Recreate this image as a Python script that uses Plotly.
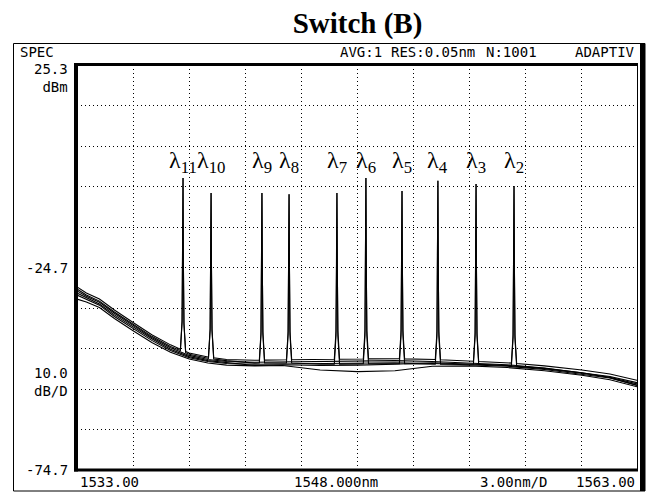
import numpy as np
import plotly.graph_objects as go

# ---------------- data ----------------
FLOOR_WL = [1533.0, 1533.5, 1534.2, 1535.0, 1536.0, 1537.0, 1538.0, 1539.0, 1540.0, 1541.0,
            1542.5, 1544.0, 1546.0, 1548.0, 1550.0, 1552.0, 1554.0, 1556.0, 1558.0, 1560.0,
            1561.5, 1563.0]
FLOOR_1 = [-29.5, -31.0, -32.5, -35.2, -38.3, -41.3, -43.8, -45.8, -46.8, -47.4, -47.6, -47.5,
           -47.4, -47.3, -47.2, -47.4, -47.8, -48.2, -49.0, -50.0, -51.0, -52.6]
FLOOR_2 = [-30.5, -31.8, -33.3, -36.0, -39.0, -42.0, -44.5, -46.4, -47.4, -47.9, -48.1, -48.0,
           -47.9, -47.8, -47.7, -47.9, -48.3, -48.7, -49.5, -50.6, -51.6, -53.2]
FLOOR_3 = [-31.5, -32.5, -34.0, -36.8, -39.8, -42.7, -45.2, -47.0, -47.9, -48.4, -48.6, -48.5,
           -48.4, -48.3, -48.2, -48.4, -48.7, -49.1, -49.9, -51.0, -52.0, -53.8]
FLOOR_4 = [-32.5, -33.2, -34.6, -37.3, -40.3, -43.2, -45.6, -47.3, -48.3, -48.8, -49.0, -48.9,
           -50.0, -50.4, -50.2, -49.1, -49.0, -49.4, -50.2, -51.3, -52.4, -54.2]
FLOOR_5 = [-30.0, -31.5, -33.0, -35.7, -38.7, -41.7, -44.2, -46.1, -47.1, -47.7, -48.3, -48.2,
           -48.6, -48.5, -48.4, -48.6, -48.5, -48.9, -49.7, -50.8, -51.8, -53.5]
FLOOR_6 = [-31.0, -32.2, -33.7, -36.4, -39.4, -42.3, -44.9, -46.7, -47.7, -48.2, -48.9, -48.7,
           -48.9, -48.8, -48.6, -48.2, -48.5, -48.9, -49.6, -50.7, -51.9, -53.9]

PEAK_NAMES = ["11", "10", "9", "8", "7", "6", "5", "4", "3", "2"]
PEAK_WL = [1538.67, 1540.17, 1542.89, 1544.34, 1546.90, 1548.45, 1550.38, 1552.30, 1554.34, 1556.37]
PEAK_DBM = [-2.6, -6.3, -6.3, -6.6, -6.3, -2.6, -5.8, -3.3, -4.1, -4.6]

X_TICKS = ["1533.00", "1548.000nm", "3.00nm/D", "1563.00"]
Y_TOP, Y_MID, Y_BOT = "25.3", "-24.7", "-74.7"

# ---------------- geometry helpers ----------------
W, H = 658, 493
L, R, T, B = 77, 638, 65, 470


def px(x):
    return (x - L) / (R - L)


def py(y):
    return (B - y) / (B - T)


# peak shape (nm offsets and shoulder levels)
OFFS = [-0.14, -0.05, -0.02, 0.0, 0.02, 0.05, 0.14]


def build(floor, with_peaks):
    xs = list(FLOOR_WL)
    ys = list(floor)
    if with_peaks:
        for wl, pk in zip(PEAK_WL, PEAK_DBM):
            base_l = float(np.interp(wl + OFFS[0], FLOOR_WL, floor))
            base_r = float(np.interp(wl + OFFS[-1], FLOOR_WL, floor))
            lv = [base_l, base_l + 7, -24.0, pk, -24.0, base_r + 7, base_r]
            for o, v in zip(OFFS, lv):
                xs.append(wl + o)
                ys.append(v)
    order = np.argsort(xs, kind="stable")
    return [xs[i] for i in order], [ys[i] for i in order]


fig = go.Figure()
for floor, pk in [(FLOOR_4, False), (FLOOR_3, False), (FLOOR_6, False), (FLOOR_5, True),
                  (FLOOR_2, False), (FLOOR_1, True)]:
    x, y = build(floor, pk)
    fig.add_trace(go.Scatter(x=x, y=y, mode="lines", line=dict(color="black", width=1.1),
                             hoverinfo="skip", showlegend=False))

fig.update_layout(
    width=W, height=H,
    margin=dict(l=L, r=W - R, t=T, b=H - B),
    paper_bgcolor="white", plot_bgcolor="white",
    showlegend=False,
    title=dict(text="<b>Switch (B)</b>", x=0.5, xref="paper", xanchor="center", y=1 - 23 / H,
               yanchor="middle", font=dict(family="Liberation Serif", size=29, color="black")),
    xaxis=dict(range=[1533, 1563], tick0=1533, dtick=3, showgrid=True, gridcolor="black",
               griddash="1px,3px", gridwidth=1, showticklabels=False, zeroline=False,
               showline=False, ticks=""),
    yaxis=dict(range=[-74.7, 25.3], tick0=25.3, dtick=10, showgrid=True, gridcolor="black",
               griddash="1px,3px", gridwidth=1, showticklabels=False, zeroline=False,
               showline=False, ticks=""),
)

shapes = []


def line(x0, y0, x1, y1, w):
    shapes.append(dict(type="line", xref="paper", yref="paper", x0=px(x0), y0=py(y0),
                       x1=px(x1), y1=py(y1), line=dict(color="black", width=w)))


# outer frame
shapes.append(dict(type="rect", xref="paper", yref="paper", x0=px(13.5), y0=py(43.5),
                   x1=px(645), y1=py(491), line=dict(color="black", width=1)))
# plot border
line(76, 63, 76, 471.5, 4)
line(74, 64.5, 638, 64.5, 3)
line(74, 470, 638, 470, 3)
line(637.5, 64, 637.5, 470, 1)
line(642.5, 44, 642.5, 491, 5)
fig.update_layout(shapes=shapes)

MONO = dict(family="DejaVu Sans Mono", size=14, color="black")
ann = []


def text(s, x, y, anchor):
    ann.append(dict(text=s, xref="paper", yref="paper", x=px(x), y=py(y), xanchor=anchor,
                    yanchor="middle", align="right" if anchor == "right" else "left",
                    showarrow=False, font=MONO))


text("SPEC", 18, 52, "left")
text("AVG:1", 338, 52, "left")
text("RES:0.05nm", 389, 52, "left")
text("N:1001", 484, 52, "left")
text("ADAPTIV", 637, 52, "right")
text(Y_TOP + "<br>dBm", 70, 78, "right")
text(Y_MID, 70, 268, "right")
text("10.0<br>dB/D", 70, 382, "right")
text(Y_BOT, 70, 470, "right")
text(X_TICKS[0], 78, 482, "left")
text(X_TICKS[1], 336, 482, "center")
text(X_TICKS[2], 513, 482, "center")
text(X_TICKS[3], 637, 482, "right")

for name, wl in zip(PEAK_NAMES, PEAK_WL):
    ann.append(dict(text="λ<sub>" + name + "</sub>", xref="x", yref="paper", x=wl,
                    y=py(162), xanchor="center", yanchor="middle", showarrow=False,
                    font=dict(family="Liberation Serif", size=24, color="black")))

fig.update_layout(annotations=ann)
fig.write_html("out.html", config={"displayModeBar": False},
               post_script="document.body.style.margin='0';document.body.style.overflow='hidden';")
